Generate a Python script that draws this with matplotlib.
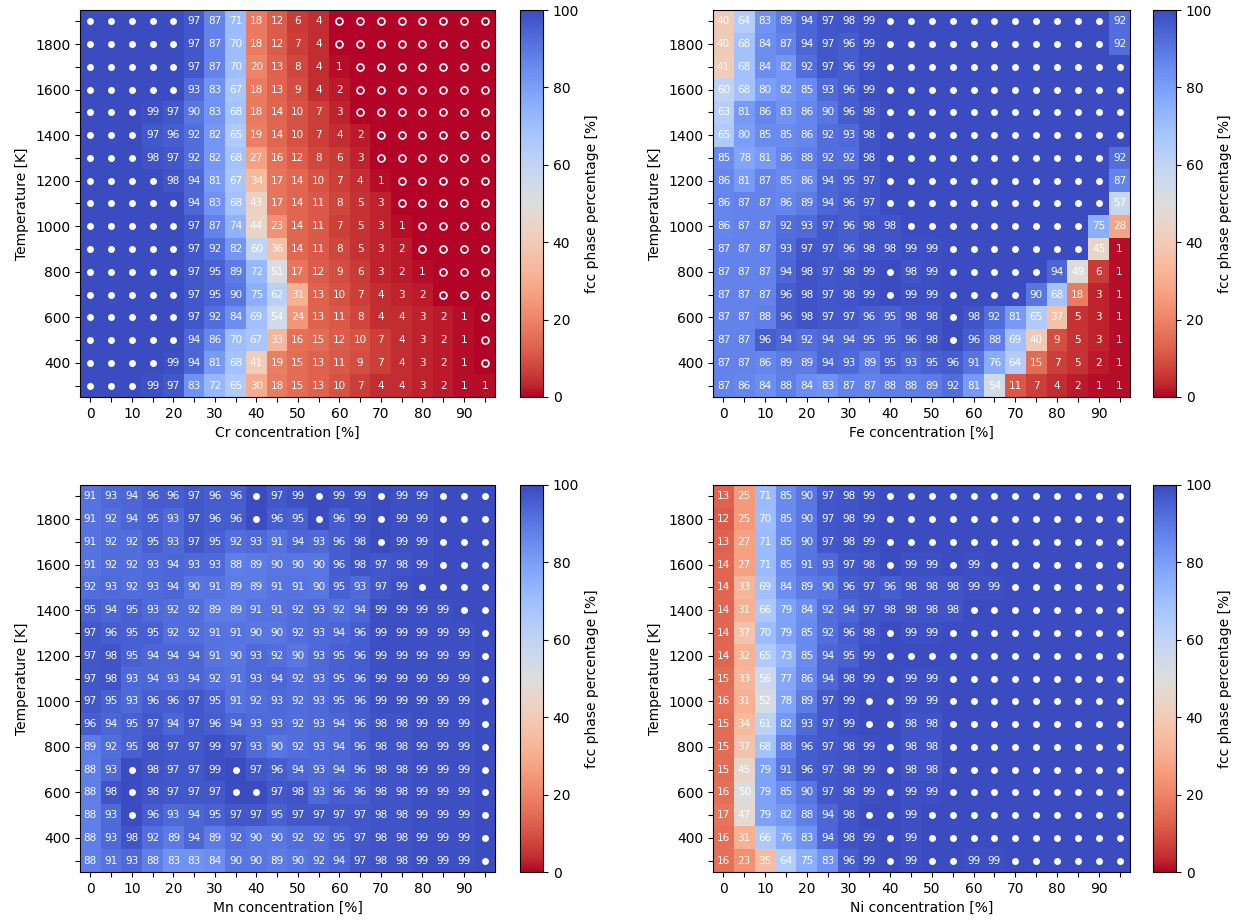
import numpy as np
import matplotlib
matplotlib.use("Agg")
import matplotlib.pyplot as plt

# 100 -> filled dot, 0 -> open circle
concentrations = list(range(0, 100, 5))
temperatures_top_down = list(range(1900, 200, -100))

cr_fcc = [
    [100,100,100,100,100,97,87,71,18,12,6,4,0,0,0,0,0,0,0,0],
    [100,100,100,100,100,97,87,70,18,12,7,4,0,0,0,0,0,0,0,0],
    [100,100,100,100,100,97,87,70,20,13,8,4,1,0,0,0,0,0,0,0],
    [100,100,100,100,100,93,83,67,18,13,9,4,2,0,0,0,0,0,0,0],
    [100,100,100,99,97,90,83,68,18,14,10,7,3,0,0,0,0,0,0,0],
    [100,100,100,97,96,92,82,65,19,14,10,7,4,2,0,0,0,0,0,0],
    [100,100,100,98,97,92,82,68,27,16,12,8,6,3,0,0,0,0,0,0],
    [100,100,100,100,98,94,81,67,34,17,14,10,7,4,1,0,0,0,0,0],
    [100,100,100,100,100,94,83,68,43,17,14,11,8,5,3,0,0,0,0,0],
    [100,100,100,100,100,97,87,74,44,23,14,11,7,5,3,1,0,0,0,0],
    [100,100,100,100,100,97,92,82,60,36,14,11,8,5,3,2,0,0,0,0],
    [100,100,100,100,100,97,95,89,72,51,17,12,9,6,3,2,1,0,0,0],
    [100,100,100,100,100,97,95,90,75,62,31,13,10,7,4,3,2,0,0,0],
    [100,100,100,100,100,97,92,84,69,54,24,13,11,8,4,4,3,2,1,0],
    [100,100,100,100,100,94,86,70,67,33,16,15,12,10,7,4,3,2,1,0],
    [100,100,100,100,99,94,81,68,41,19,15,13,11,9,7,4,3,2,1,0],
    [100,100,100,99,97,83,72,65,30,18,15,13,10,7,4,4,3,2,1,1],
]

fe_fcc = [
    [40,64,83,89,94,97,98,99,100,100,100,100,100,100,100,100,100,100,100,92],
    [40,68,84,87,94,97,96,99,100,100,100,100,100,100,100,100,100,100,100,92],
    [41,68,84,82,92,97,96,99,100,100,100,100,100,100,100,100,100,100,100,100],
    [60,68,80,82,85,93,96,99,100,100,100,100,100,100,100,100,100,100,100,100],
    [63,81,86,83,86,90,96,98,100,100,100,100,100,100,100,100,100,100,100,100],
    [65,80,85,85,86,92,93,98,100,100,100,100,100,100,100,100,100,100,100,100],
    [85,78,81,86,88,92,92,98,100,100,100,100,100,100,100,100,100,100,100,92],
    [86,81,87,85,86,94,95,97,100,100,100,100,100,100,100,100,100,100,100,87],
    [86,87,87,86,89,94,96,97,100,100,100,100,100,100,100,100,100,100,100,57],
    [86,87,87,92,93,97,96,98,98,100,100,100,100,100,100,100,100,100,75,28],
    [87,87,87,93,97,97,96,98,98,99,99,100,100,100,100,100,100,100,45,1],
    [87,87,87,94,98,97,98,99,100,98,99,100,100,100,100,100,94,49,6,1],
    [87,87,87,96,98,97,98,99,100,99,99,100,100,100,100,90,68,18,3,1],
    [87,87,88,96,98,97,97,96,95,98,98,100,98,92,81,65,37,5,3,1],
    [87,87,96,94,92,94,94,95,95,96,98,100,96,88,69,40,9,5,3,1],
    [87,87,86,89,89,94,93,89,95,93,95,96,91,76,64,15,7,5,2,1],
    [87,86,84,88,84,83,87,87,88,88,89,92,81,54,11,7,4,2,1,1],
]

mn_fcc = [
    [91,93,94,96,96,97,96,96,100,97,99,100,99,99,100,99,99,100,100,100],
    [91,92,94,95,93,97,96,96,100,96,95,100,96,99,100,99,99,100,100,100],
    [91,92,92,95,93,97,95,92,93,91,94,93,96,98,100,99,99,100,100,100],
    [91,92,92,93,94,93,93,88,89,90,90,90,96,98,97,98,99,100,100,100],
    [92,93,92,93,94,90,91,89,89,91,91,90,95,93,97,99,100,100,100,100],
    [95,94,95,93,92,92,89,89,91,91,92,93,92,94,99,99,99,99,100,100],
    [97,96,95,95,92,92,91,91,90,90,92,93,94,96,99,99,99,99,99,100],
    [97,98,95,94,94,94,91,90,93,92,90,93,95,96,99,99,99,99,99,100],
    [97,98,93,94,93,94,92,91,93,94,92,93,95,96,99,99,99,99,99,100],
    [97,95,93,96,96,97,95,91,92,93,92,93,95,96,99,99,99,99,99,100],
    [96,94,95,97,94,97,96,94,93,93,92,93,94,96,98,98,99,99,99,100],
    [89,92,95,98,97,97,99,97,93,90,92,93,94,96,98,98,99,99,99,100],
    [88,93,100,98,97,97,99,100,97,96,94,93,94,96,98,98,99,99,99,100],
    [88,98,100,98,97,97,97,100,100,97,98,93,96,96,98,98,99,99,99,100],
    [88,93,100,96,93,94,95,97,97,95,97,97,97,97,98,98,99,99,99,100],
    [88,93,98,92,89,94,89,92,90,90,92,92,95,97,98,98,99,99,99,100],
    [88,91,93,88,83,83,84,90,90,89,90,92,94,97,98,98,99,99,99,100],
]

ni_fcc = [
    [13,25,71,85,90,97,98,99,100,100,100,100,100,100,100,100,100,100,100,100],
    [12,25,70,85,90,97,98,99,100,100,100,100,100,100,100,100,100,100,100,100],
    [13,27,71,85,90,97,98,99,100,100,100,100,100,100,100,100,100,100,100,100],
    [14,27,71,85,91,93,97,98,100,99,99,100,99,100,100,100,100,100,100,100],
    [14,33,69,84,89,90,96,97,96,98,98,98,99,99,100,100,100,100,100,100],
    [14,31,66,79,84,92,94,97,98,98,98,98,100,100,100,100,100,100,100,100],
    [14,37,70,79,85,92,96,98,100,99,99,100,100,100,100,100,100,100,100,100],
    [14,32,65,73,85,94,95,99,100,100,100,100,100,100,100,100,100,100,100,100],
    [15,33,56,77,86,94,98,99,100,99,99,100,100,100,100,100,100,100,100,100],
    [16,31,52,78,89,97,99,100,100,99,99,100,100,100,100,100,100,100,100,100],
    [15,34,61,82,93,97,99,100,100,98,98,100,100,100,100,100,100,100,100,100],
    [15,37,68,88,96,97,98,99,100,98,98,100,100,100,100,100,100,100,100,100],
    [15,45,79,91,96,97,98,99,100,98,98,100,100,100,100,100,100,100,100,100],
    [16,50,79,85,90,97,98,99,100,99,99,100,100,100,100,100,100,100,100,100],
    [17,47,79,82,88,94,98,100,100,99,100,100,100,100,100,100,100,100,100,100],
    [16,31,66,76,83,94,98,99,100,99,100,100,100,100,100,100,100,100,100,100],
    [16,23,35,64,75,83,96,99,100,99,100,100,99,99,100,100,100,100,100,100],
]

panels = [("Cr", cr_fcc), ("Fe", fe_fcc), ("Mn", mn_fcc), ("Ni", ni_fcc)]

W, H = 1243, 924
fig = plt.figure(figsize=(W / 100, H / 100), dpi=100)

ax_rects = [
    (80, 10, 495, 397),
    (713, 10, 1130, 397),
    (80, 485, 495, 872),
    (713, 485, 1130, 872),
]
cb_rects = [
    (520, 10, 543, 397),
    (1153, 10, 1176, 397),
    (520, 485, 543, 872),
    (1153, 485, 1176, 872),
]

def to_fig(r):
    x0, y0, x1, y1 = r
    return [x0 / W, 1 - y1 / H, (x1 - x0) / W, (y1 - y0) / H]

xs = np.array(concentrations)
ys = np.array(temperatures_top_down)

for (name, data), ar, cr in zip(panels, ax_rects, cb_rects):
    ax = fig.add_axes(to_fig(ar))
    cax = fig.add_axes(to_fig(cr))
    arr = np.array(data, dtype=float)
    im = ax.imshow(arr, cmap="coolwarm_r", vmin=0, vmax=100, aspect="auto",
                   extent=[xs[0] - 2.5, xs[-1] + 2.5, ys[-1] - 50, ys[0] + 50],
                   interpolation="nearest")
    full_x, full_y, empty_x, empty_y = [], [], [], []
    for i, t in enumerate(ys):
        for j, c in enumerate(xs):
            v = arr[i, j]
            if v >= 100:
                full_x.append(c); full_y.append(t)
            elif v <= 0:
                empty_x.append(c); empty_y.append(t)
            else:
                ax.text(c, t, f"{int(v)}", ha="center", va="center",
                        color="white", fontsize=7.5)
    ax.plot(full_x, full_y, "o", color="white", ms=5, mew=0, ls="none")
    ax.plot(empty_x, empty_y, "o", mfc="none", mec="white", ms=5, mew=1.2, ls="none")
    ax.set_xticks(xs)
    ax.set_xticklabels([str(c) if c % 10 == 0 else "" for c in xs])
    yt = np.arange(300, 2000, 100)
    ax.set_yticks(yt)
    ax.set_yticklabels([str(t) if t % 200 == 0 and 400 <= t <= 1800 else "" for t in yt])
    ax.set_xlim(xs[0] - 2.5, xs[-1] + 2.5)
    ax.set_ylim(ys[-1] - 50, ys[0] + 50)
    ax.set_xlabel(f"{name} concentration [%]")
    ax.set_ylabel("Temperature [K]")
    cb = fig.colorbar(im, cax=cax)
    cb.set_ticks([0, 20, 40, 60, 80, 100])
    cb.set_label("fcc phase percentage [%]")

fig.savefig("out.png", dpi=100)
